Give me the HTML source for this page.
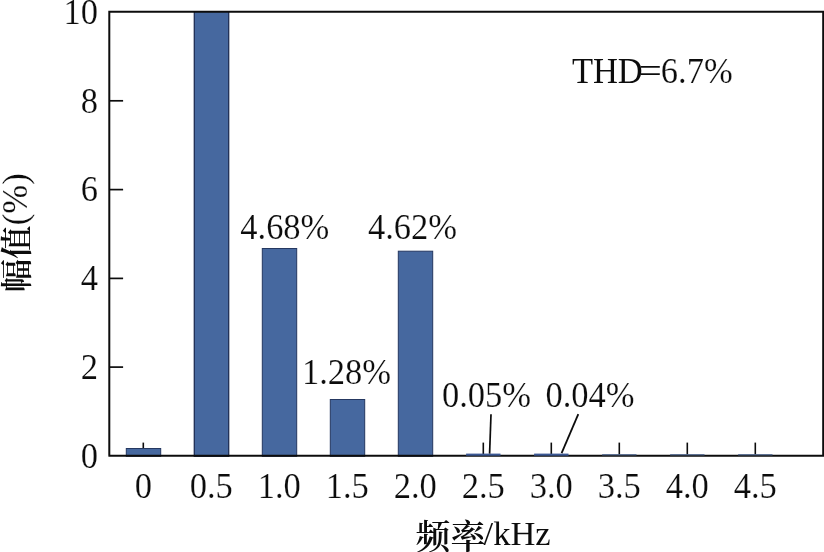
<!DOCTYPE html>
<html lang="zh"><head><meta charset="utf-8"><title>THD</title>
<style>
html,body{margin:0;padding:0;background:#fff;}
body{width:824px;height:552px;overflow:hidden;}
svg{display:block;will-change:transform;}
text{font-family:"Liberation Serif","Noto Serif CJK SC",serif;fill:#0c0c0c;stroke:#fff;stroke-width:0.18px;paint-order:fill stroke;}
.cjk{stroke:none;font-weight:600;}
.ns{stroke:none;}
</style></head><body>
<svg width="824" height="552" viewBox="0 0 824 552">
<line x1="143.3" y1="455.8" x2="143.3" y2="442.6" stroke="#0c0c0c" stroke-width="1.6"/>
<line x1="211.3" y1="455.8" x2="211.3" y2="442.6" stroke="#0c0c0c" stroke-width="1.6"/>
<line x1="279.3" y1="455.8" x2="279.3" y2="442.6" stroke="#0c0c0c" stroke-width="1.6"/>
<line x1="347.3" y1="455.8" x2="347.3" y2="442.6" stroke="#0c0c0c" stroke-width="1.6"/>
<line x1="415.3" y1="455.8" x2="415.3" y2="442.6" stroke="#0c0c0c" stroke-width="1.6"/>
<line x1="483.3" y1="455.8" x2="483.3" y2="442.6" stroke="#0c0c0c" stroke-width="1.6"/>
<line x1="551.3" y1="455.8" x2="551.3" y2="442.6" stroke="#0c0c0c" stroke-width="1.6"/>
<line x1="619.3" y1="455.8" x2="619.3" y2="442.6" stroke="#0c0c0c" stroke-width="1.6"/>
<line x1="687.3" y1="455.8" x2="687.3" y2="442.6" stroke="#0c0c0c" stroke-width="1.6"/>
<line x1="755.3" y1="455.8" x2="755.3" y2="442.6" stroke="#0c0c0c" stroke-width="1.6"/>
<defs><clipPath id="c"><rect x="0" y="11.8" width="824" height="600"/></clipPath></defs>
<g clip-path="url(#c)">
<rect x="126.3" y="448.5" width="34.4" height="7.8" fill="#46689f" stroke="#253861" stroke-width="1"/>
<rect x="194.3" y="-5.5" width="34.4" height="461.8" fill="#46689f" stroke="#1f2f55" stroke-width="1.3"/>
<rect x="262.3" y="248.5" width="34.4" height="207.8" fill="#46689f" stroke="#253861" stroke-width="1"/>
<rect x="330.3" y="399.5" width="34.4" height="56.8" fill="#46689f" stroke="#253861" stroke-width="1"/>
<rect x="398.3" y="251.2" width="34.4" height="205.1" fill="#46689f" stroke="#253861" stroke-width="1"/>
</g>
<path d="M109.3 455.8 V11.8 H823.2 V455.8 H108.4" fill="none" stroke="#0c0c0c" stroke-width="2"/>
<rect x="466.1" y="453.6" width="34.4" height="2.1" fill="#3c5995"/>
<rect x="534.1" y="453.6" width="34.4" height="2.1" fill="#3c5995"/>
<rect x="602.1" y="454.1" width="34.4" height="1.3" fill="#566b90"/>
<rect x="670.1" y="454.1" width="34.4" height="1.3" fill="#566b90"/>
<rect x="738.1" y="454.1" width="34.4" height="1.3" fill="#566b90"/>
<line x1="109.3" y1="367.1" x2="123.1" y2="367.1" stroke="#0c0c0c" stroke-width="1.7"/>
<line x1="109.3" y1="278.4" x2="123.1" y2="278.4" stroke="#0c0c0c" stroke-width="1.7"/>
<line x1="109.3" y1="189.6" x2="123.1" y2="189.6" stroke="#0c0c0c" stroke-width="1.7"/>
<line x1="109.3" y1="100.8" x2="123.1" y2="100.8" stroke="#0c0c0c" stroke-width="1.7"/>
<text transform="translate(98.0 467.7) scale(0.945 1)" font-size="36.5" text-anchor="end">0</text>
<text transform="translate(98.0 378.9) scale(0.945 1)" font-size="36.5" text-anchor="end">2</text>
<text transform="translate(98.0 290.1) scale(0.945 1)" font-size="36.5" text-anchor="end">4</text>
<text transform="translate(98.0 201.3) scale(0.945 1)" font-size="36.5" text-anchor="end">6</text>
<text transform="translate(98.0 112.5) scale(0.945 1)" font-size="36.5" text-anchor="end">8</text>
<text transform="translate(98.0 23.7) scale(0.945 1)" font-size="36.5" text-anchor="end">10</text>
<text transform="translate(143.3 498.1) scale(0.945 1)" font-size="36.5" text-anchor="middle">0</text>
<text transform="translate(211.3 498.1) scale(0.945 1)" font-size="36.5" text-anchor="middle">0.5</text>
<text transform="translate(279.3 498.1) scale(0.945 1)" font-size="36.5" text-anchor="middle">1.0</text>
<text transform="translate(347.3 498.1) scale(0.945 1)" font-size="36.5" text-anchor="middle">1.5</text>
<text transform="translate(415.3 498.1) scale(0.945 1)" font-size="36.5" text-anchor="middle">2.0</text>
<text transform="translate(483.3 498.1) scale(0.945 1)" font-size="36.5" text-anchor="middle">2.5</text>
<text transform="translate(551.3 498.1) scale(0.945 1)" font-size="36.5" text-anchor="middle">3.0</text>
<text transform="translate(619.3 498.1) scale(0.945 1)" font-size="36.5" text-anchor="middle">3.5</text>
<text transform="translate(687.3 498.1) scale(0.945 1)" font-size="36.5" text-anchor="middle">4.0</text>
<text transform="translate(755.3 498.1) scale(0.945 1)" font-size="36.5" text-anchor="middle">4.5</text>
<text transform="translate(284.8 239.4) scale(0.945 1)" font-size="36.5" text-anchor="middle">4.68%</text>
<text transform="translate(412.5 239.4) scale(0.945 1)" font-size="36.5" text-anchor="middle">4.62%</text>
<text transform="translate(346.5 384.4) scale(0.945 1)" font-size="36.5" text-anchor="middle">1.28%</text>
<text transform="translate(486.5 406.7) scale(0.945 1)" font-size="36.5" text-anchor="middle">0.05%</text>
<text transform="translate(590.0 406.7) scale(0.945 1)" font-size="36.5" text-anchor="middle">0.04%</text>
<text transform="translate(571.9 82.7) scale(0.945 1)" font-size="36.5" text-anchor="start" class="ns">THD</text>
<text transform="translate(638.7 82.9) scale(1.12 1)" font-size="36.5" text-anchor="start" class="ns">=</text>
<text transform="translate(660.8 82.7) scale(0.945 1)" font-size="36.5" text-anchor="start">6.7%</text>
<line x1="491.0" y1="414.3" x2="489.6" y2="453.6" stroke="#0c0c0c" stroke-width="1.7"/>
<line x1="578.3" y1="414.2" x2="561.6" y2="453.2" stroke="#0c0c0c" stroke-width="1.8"/>
<text class="cjk" transform="translate(415.4 549.2) scale(1.015 1)" font-size="34.5">频率</text>
<text class="ns" x="483.6" y="544.9" font-size="34.5">/kHz</text>
<text transform="translate(28.2 292.2) scale(0.96 1) rotate(-90)" font-size="33.3" class="cjk">幅值</text>
<text transform="translate(26.9 225.2) rotate(-90) scale(0.95 1)" font-size="36.5">(%)</text>
</svg>
</body></html>
